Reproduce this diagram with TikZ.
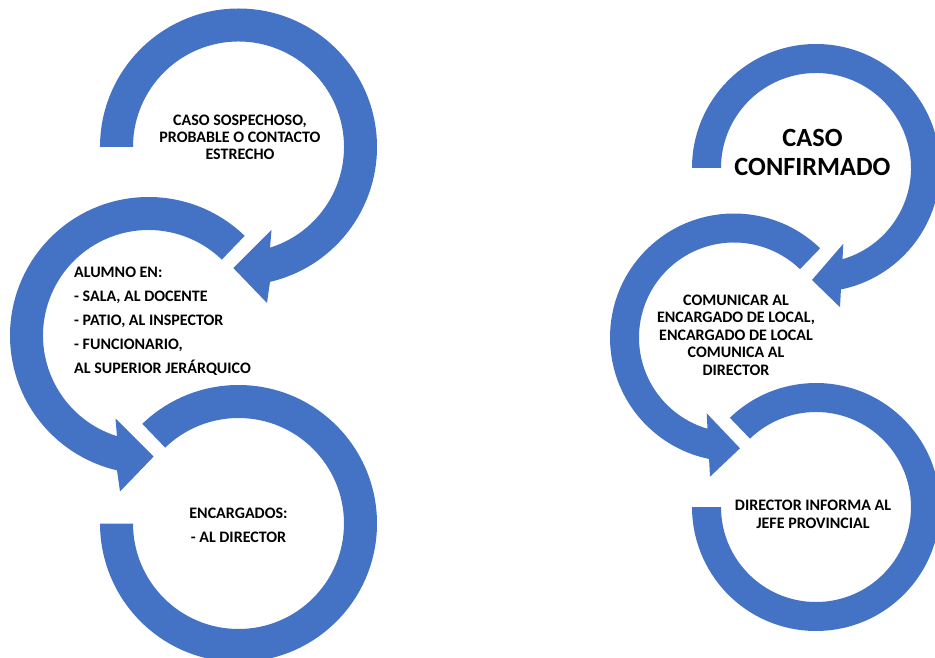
\documentclass[tikz,border=0pt]{standalone}
\usepackage{fontspec}
\setmainfont{Carlito}
\usepackage{tikz}

\definecolor{ringblue}{HTML}{4472C4}

\begin{document}
\begin{tikzpicture}[x=1pt,y=1pt]
    \tikzstyle{every node}=[font=\bfseries\fontsize{16}{17}\selectfont, text=black, inner sep=0pt]
    \tikzstyle{ring}=[fill=ringblue]
    \useasboundingbox (0,0) rectangle (935,657);
    \clip (0,0) rectangle (935,657);

    \begin{scope}[shift={(238.5,510)}]
    \fill[ring] (180:138.5) arc[start angle=180, end angle=-76.85, radius=138.5]
        -- (28.5,-156) -- (-5.2,-121) -- (33,-83)
        -- (-72.6:105.5) arc[start angle=-72.6, end angle=180, radius=105.5] -- cycle;
    \end{scope}

    \begin{scope}[shift={(148.5,321.5)}]
    \fill[ring] (46:138.5) arc[start angle=46, end angle=256.85, radius=138.5]
        -- (-28.5,-156) -- (5.2,-121) -- (-33,-83)
        -- (252.6:105.5) arc[start angle=252.6, end angle=46, radius=105.5] -- cycle;
    \end{scope}

    \begin{scope}[shift={(238.5,133.5)}]
    \fill[ring] (134:138.5) arc[start angle=134, end angle=-180, radius=138.5]
        -- (180:105.5) arc[start angle=-180, end angle=134, radius=105.5] -- cycle;
    \end{scope}

    \begin{scope}[shift={(816,489)}]
    \fill[ring] (180:124) arc[start angle=180, end angle=-78.4, radius=124]
        -- (24,-139.2) -- (-4,-112) -- (27.3,-75.8)
        -- (-73.8:95) arc[start angle=-73.8, end angle=180, radius=95] -- cycle;
    \end{scope}

    \begin{scope}[shift={(734,319.5)}]
    \fill[ring] (46:124) arc[start angle=46, end angle=258.4, radius=124]
        -- (-24,-139.2) -- (6,-110.8) -- (-27.3,-75.8)
        -- (253.8:95) arc[start angle=253.8, end angle=46, radius=95] -- cycle;
    \end{scope}

    \begin{scope}[shift={(816,150)}]
    \fill[ring] (134:124) arc[start angle=134, end angle=-180, radius=124]
        -- (180:95) arc[start angle=-180, end angle=134, radius=95] -- cycle;
    \end{scope}

    \node (caso) at (240,519.5) [align=center] {CASO SOSPECHOSO,\\PROBABLE O CONTACTO\\ESTRECHO};

    \node (alumno) at (74,335.3) [anchor=west, align=left,
    font=\bfseries\fontsize{16}{24}\selectfont] {ALUMNO EN:\\- SALA, AL DOCENTE\\- PATIO, AL
    INSPECTOR\\- FUNCIONARIO,\\AL SUPERIOR JERÁRQUICO};

    \node (encargados) at (238.5,132) [align=center,
    font=\bfseries\fontsize{16}{24}\selectfont] {ENCARGADOS:\\- AL DIRECTOR};

    \node (confirmado) at (812.5,504.5) [align=center,
    font=\bfseries\fontsize{26.3}{29}\selectfont] {CASO\\CONFIRMADO};

    \node (comunicar) at (736,322) [align=center,
    font=\bfseries\fontsize{16}{17.5}\selectfont] {COMUNICAR AL\\ENCARGADO DE
    LOCAL,\\ENCARGADO DE LOCAL\\COMUNICA AL\\DIRECTOR};

    \node (informa) at (813,143) [align=center,
    font=\bfseries\fontsize{16}{18.3}\selectfont] {DIRECTOR INFORMA AL\\JEFE PROVINCIAL};

\end{tikzpicture}
\end{document}
